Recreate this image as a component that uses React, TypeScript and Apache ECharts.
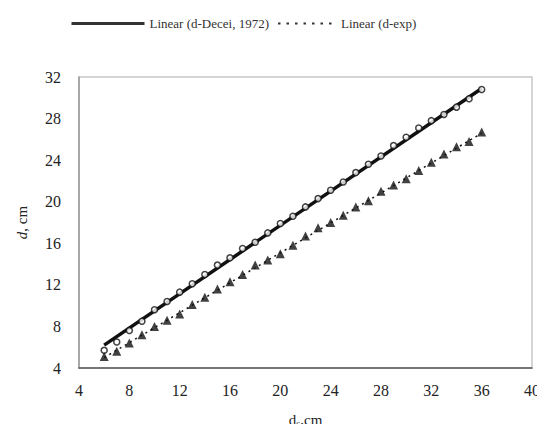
import React, { useEffect, useRef } from "react";
import * as echarts from "echarts";

const xValues = [6, 7, 8, 9, 10, 11, 12, 13, 14, 15, 16, 17, 18, 19, 20, 21, 22, 23, 24, 25, 26, 27, 28, 29, 30, 31, 32, 33, 34, 35, 36];
const deceiValues = [5.7, 6.5, 7.6, 8.5, 9.6, 10.4, 11.3, 12.1, 13.0, 13.9, 14.6, 15.5, 16.1, 17.0, 17.9, 18.6, 19.5, 20.3, 21.1, 21.9, 22.8, 23.6, 24.4, 25.4, 26.2, 27.1, 27.8, 28.4, 29.1, 29.9, 30.8];
const expValues = [5.1, 5.6, 6.4, 7.2, 8.0, 8.6, 9.2, 10.1, 10.8, 11.6, 12.3, 13.0, 13.9, 14.4, 15.0, 15.8, 16.7, 17.5, 18.0, 18.7, 19.5, 20.1, 21.0, 21.6, 22.2, 23.0, 23.8, 24.6, 25.3, 25.8, 26.7];
const trendDeceiX = [6, 36];
const trendDeceiY = [6.2, 30.9];
const trendExpX = [6, 36];
const trendExpY = [5.0, 26.6];
const legendNames = ["Linear (d-Decei, 1972)", "Linear (d-exp)"];
const axisTicks = { xMin: 4, xMax: 40, yMin: 4, yMax: 32, step: 4 };

const FONT = "'Liberation Serif', 'DejaVu Serif', serif";
const INK = "#222";

export default function App() {
  const ref = useRef<HTMLDivElement>(null);
  useEffect(() => {
    if (!ref.current) return;
    const chart = echarts.init(ref.current, undefined, { renderer: "svg" });
    const pair = (xs: number[], ys: number[]) => xs.map((x, i) => [x, ys[i]]);
    const legendBase = {
      top: 12,
      itemHeight: 10,
      itemStyle: { opacity: 0 },
      textStyle: { fontFamily: FONT, fontSize: 13, color: "#333" },
    };
    chart.setOption({
      animation: false,
      backgroundColor: "#fff",
      textStyle: { fontFamily: FONT },
      legend: [
        { ...legendBase, data: [legendNames[0]], left: 65, itemWidth: 73, lineStyle: { width: 3, color: "#333" } },
        { ...legendBase, data: [legendNames[1]], left: 272, itemWidth: 58, lineStyle: { width: 2, type: [2.5, 6], color: "#333" } },
      ],
      grid: {
        left: 79,
        right: 13,
        top: 77,
        bottom: 60,
        show: true,
        borderColor: "#c8c8c8",
        borderWidth: 1.5,
      },
      xAxis: {
        type: "value",
        min: axisTicks.xMin,
        max: axisTicks.xMax,
        interval: axisTicks.step,
        name: "{d|d}{s|c}{d|,cm}",
        nameLocation: "middle",
        nameGap: 44,
        nameTextStyle: {
          rich: {
            d: { fontFamily: FONT, fontSize: 15, color: INK },
            s: { fontFamily: FONT, fontSize: 9, color: INK, verticalAlign: "bottom", padding: [6, 0, 0, 0] },
          },
        },
        axisLine: { show: true, lineStyle: { color: "#555", width: 1.5 } },
        axisTick: { show: false },
        splitLine: { show: false },
        axisLabel: { fontFamily: FONT, fontSize: 16, color: INK, margin: 14 },
      },
      yAxis: {
        type: "value",
        min: axisTicks.yMin,
        max: axisTicks.yMax,
        interval: axisTicks.step,
        name: "{i|d}{n|, cm}",
        nameLocation: "middle",
        nameGap: 50,
        nameTextStyle: {
          rich: {
            i: { fontFamily: FONT, fontSize: 15, fontStyle: "italic", color: INK },
            n: { fontFamily: FONT, fontSize: 15, color: INK },
          },
        },
        axisLine: { show: true, lineStyle: { color: "#999", width: 1.5 } },
        axisTick: { show: false },
        splitLine: { show: false },
        axisLabel: { fontFamily: FONT, fontSize: 16, color: INK, margin: 18 },
      },
      series: [
        {
          name: legendNames[0],
          type: "line",
          data: pair(trendDeceiX, trendDeceiY),
          symbol: "none",
          itemStyle: { color: "#111" },
          lineStyle: { color: "#111", width: 3.5 },
          z: 2,
        },
        {
          name: legendNames[1],
          type: "line",
          data: pair(trendExpX, trendExpY),
          symbol: "none",
          itemStyle: { color: "#111" },
          lineStyle: { color: "#111", width: 1.5, type: [2, 4] },
          z: 2,
        },
        {
          name: "d-Decei",
          type: "scatter",
          data: pair(xValues, deceiValues),
          symbol: "circle",
          symbolSize: 6,
          itemStyle: { color: "#fff", borderColor: "#111", borderWidth: 1.5 },
          z: 3,
        },
        {
          name: "d-exp",
          type: "scatter",
          data: pair(xValues, expValues),
          symbol: "triangle",
          symbolSize: 9,
          itemStyle: { color: "#111" },
          z: 3,
        },
      ],
    });
    return () => chart.dispose();
  }, []);
  return <div ref={ref} style={{ width: 545, height: 432, margin: -8 }} />;
}
